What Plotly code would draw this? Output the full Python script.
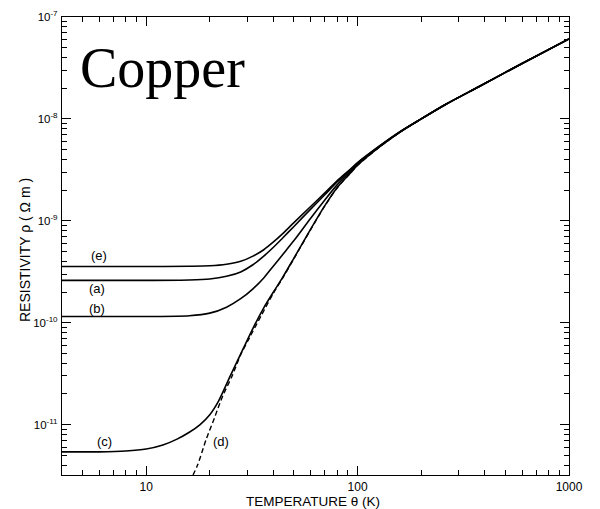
import plotly.graph_objects as go

# ---- data (temperature K, resistivity ohm m) ----
T_d = [16.0, 17.5, 19.2, 21.0, 23.0, 25.5, 28.0, 30.8, 35.0, 40.0, 44.3, 50.0, 60.0, 70.0, 80.0, 92.0, 100.0, 127.0, 160.0, 200.0, 263.0, 378.0, 600.0, 1000.0]
rho_d = [2.7e-12, 4.0e-12, 7.1e-12, 1.15e-11, 1.9e-11, 3.0e-11, 4.85e-11, 7.1e-11, 1.17e-10, 1.95e-10, 2.75e-10, 4.25e-10, 8.2e-10, 1.4e-9, 2.1e-9, 2.9e-9, 3.5e-9, 5.3e-9, 7.5e-9, 1.0e-8, 1.4e-8, 2.09e-8, 3.5e-8, 6.1e-8]

T_c = [4.0, 6.0, 8.0, 10.0, 12.0, 14.0, 16.0, 18.0, 20.0, 22.0, 25.0, 28.6, 32.0, 36.0, 40.0, 44.3, 50.0, 60.0, 70.0, 80.0, 92.0, 100.0, 127.0, 160.0, 200.0, 263.0, 378.0, 600.0, 1000.0]
rho_c = [5.4e-12, 5.4e-12, 5.5e-12, 5.75e-12, 6.3e-12, 7.2e-12, 8.4e-12, 1.0e-11, 1.25e-11, 1.7e-11, 3.0e-11, 5.4e-11, 8.8e-11, 1.4e-10, 2.0e-10, 2.8e-10, 4.3e-10, 8.3e-10, 1.41e-9, 2.11e-9, 2.91e-9, 3.51e-9, 5.31e-9, 7.5e-9, 1.0e-8, 1.4e-8, 2.09e-8, 3.5e-8, 6.1e-8]

T_b = [4.0, 10.0, 16.0, 20.0, 24.0, 28.0, 32.0, 36.0, 40.0, 44.0, 50.0, 60.0, 70.0, 80.0, 92.0, 100.0, 127.0, 160.0, 200.0, 263.0, 378.0, 600.0, 1000.0]
rho_b = [1.15e-10, 1.15e-10, 1.17e-10, 1.24e-10, 1.42e-10, 1.72e-10, 2.15e-10, 2.75e-10, 3.6e-10, 4.6e-10, 6.4e-10, 1.06e-9, 1.6e-9, 2.25e-9, 3.02e-9, 3.6e-9, 5.35e-9, 7.52e-9, 1.0e-8, 1.4e-8, 2.09e-8, 3.5e-8, 6.1e-8]

T_a = [4.0, 10.0, 16.0, 20.0, 24.0, 28.0, 32.0, 36.0, 40.0, 44.0, 50.0, 60.0, 70.0, 80.0, 92.0, 100.0, 127.0, 160.0, 200.0, 263.0, 378.0, 600.0, 1000.0]
rho_a = [2.6e-10, 2.6e-10, 2.62e-10, 2.68e-10, 2.85e-10, 3.15e-10, 3.7e-10, 4.5e-10, 5.5e-10, 6.7e-10, 8.8e-10, 1.3e-9, 1.8e-9, 2.4e-9, 3.12e-9, 3.68e-9, 5.4e-9, 7.55e-9, 1.0e-8, 1.4e-8, 2.09e-8, 3.5e-8, 6.1e-8]

T_e = [4.0, 10.0, 16.0, 20.0, 24.0, 28.0, 32.0, 36.0, 40.0, 44.0, 50.0, 60.0, 70.0, 80.0, 92.0, 100.0, 127.0, 160.0, 200.0, 263.0, 378.0, 600.0, 1000.0]
rho_e = [3.56e-10, 3.56e-10, 3.58e-10, 3.62e-10, 3.75e-10, 4.0e-10, 4.5e-10, 5.2e-10, 6.2e-10, 7.4e-10, 9.6e-10, 1.38e-9, 1.88e-9, 2.47e-9, 3.18e-9, 3.72e-9, 5.42e-9, 7.56e-9, 1.0e-8, 1.4e-8, 2.09e-8, 3.5e-8, 6.1e-8]

y_major = [1e-11, 1e-10, 1e-9, 1e-8, 1e-7]
y_major_text = ["10<sup>-11</sup>", "10<sup>-10</sup>", "10<sup>-9</sup>", "10<sup>-8</sup>", "10<sup>-7</sup>"]
x_major = [10, 100, 1000]
x_major_text = ["10", "100", "1000"]

curve_labels = ["(e)", "(a)", "(b)", "(c)", "(d)"]
x_title = "TEMPERATURE θ (K)"
y_title = "RESISTIVITY ρ ( Ω m )"
chart_title = "Copper"

# ---- figure ----
fig = go.Figure()
line_style = dict(color="black", width=1.6, shape="spline", smoothing=0.8)
for T, r in [(T_e, rho_e), (T_a, rho_a), (T_b, rho_b), (T_c, rho_c)]:
    fig.add_trace(go.Scatter(x=T, y=r, mode="lines", line=line_style, showlegend=False))
fig.add_trace(go.Scatter(x=T_d, y=rho_d, mode="lines",
                         line=dict(color="black", width=1.4, dash="5px,3px", shape="spline", smoothing=0.8),
                         showlegend=False))

# minor tick positions
x_minor = [m * 10 ** k for k in range(0, 3) for m in range(2, 10) if 4 <= m * 10 ** k <= 1000]
y_minor = [m * 10.0 ** k for k in range(-12, -7) for m in range(2, 10) if 3.2e-12 <= m * 10.0 ** k <= 1e-7]

OFF = 8  # page body margin
W, H = 592, 501
L, R, Tm, B = 54, 31, 9, 34
pw, ph = W - L - R, H - Tm - B

def px(x):
    return (x - OFF - L) / pw

def py(y):
    return (H - B - (y - OFF)) / ph

fig.update_layout(
    width=W, height=H,
    margin=dict(l=L, r=R, t=Tm, b=B, autoexpand=False),
    paper_bgcolor="white", plot_bgcolor="white",
    font=dict(family="Liberation Sans, Arial, sans-serif", color="black", size=12),
    xaxis=dict(
        type="log", range=[0.602, 3.0], automargin=False,
        tickmode="array", tickvals=x_major, ticktext=x_major_text,
        ticks="inside", ticklen=9, tickwidth=1, tickcolor="black",
        minor=dict(tickmode="array", tickvals=x_minor, ticks="inside", ticklen=5, tickwidth=1, tickcolor="black", showgrid=False),
        showline=True, linecolor="black", linewidth=1.2, mirror="ticks",
        showgrid=False, zeroline=False,
        tickfont=dict(size=12),
    ),
    yaxis=dict(
        type="log", range=[-11.495, -7.0], automargin=False,
        tickmode="array", tickvals=y_major, ticktext=y_major_text,
        ticks="inside", ticklen=9, tickwidth=1, tickcolor="black",
        minor=dict(tickmode="array", tickvals=y_minor, ticks="inside", ticklen=5, tickwidth=1, tickcolor="black", showgrid=False),
        showline=True, linecolor="black", linewidth=1.2, mirror="ticks",
        showgrid=False, zeroline=False,
        tickfont=dict(size=11.5), ticklabelstandoff=1,
    ),
)

# axis titles
fig.add_annotation(x=px(313), y=py(501), xref="paper", yref="paper", text=x_title,
                   showarrow=False, font=dict(size=13.5), xanchor="center", yanchor="middle")
fig.add_annotation(x=px(25), y=py(250), xref="paper", yref="paper", text=y_title,
                   showarrow=False, font=dict(size=14), textangle=-90,
                   xanchor="center", yanchor="middle")

label_pos = [(99, 255), (97, 288), (97, 308), (104, 441), (221, 441)]
for txt, (x, y) in zip(curve_labels, label_pos):
    fig.add_annotation(x=px(x), y=py(y), xref="paper", yref="paper", text=txt,
                       showarrow=False, font=dict(size=13),
                       xanchor="center", yanchor="middle")

fig.add_annotation(x=px(78), y=py(68), xref="paper", yref="paper", text=chart_title,
                   showarrow=False, font=dict(size=56, family="Liberation Serif, serif", color="black"),
                   xanchor="left", yanchor="middle")

fig.write_html("out.html")
